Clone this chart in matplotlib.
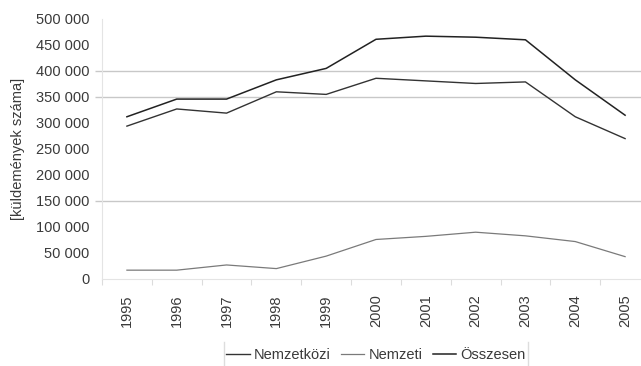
import matplotlib
matplotlib.use("Agg")
import matplotlib.pyplot as plt
from matplotlib.lines import Line2D

plt.rcParams['font.family'] = ['Liberation Sans', 'DejaVu Sans']

years = ['1995', '1996', '1997', '1998', '1999', '2000', '2001', '2002', '2003', '2004', '2005']
nemzetkozi = [294000, 327000, 319000, 360000, 355000, 386000, 381000, 376000, 379000, 312000, 270000]
nemzeti = [17000, 17000, 27000, 20000, 44000, 76000, 82000, 90000, 83000, 72000, 43000]
osszesen = [312000, 346000, 346000, 383000, 405000, 461000, 467000, 465000, 460000, 383000, 315000]
y_ticks = [0, 50000, 100000, 150000, 200000, 250000, 300000, 350000, 400000, 450000, 500000]
grid_values = [150000, 350000, 400000]

text_color = '#3a3a3a'
fs = 10.5

fig = plt.figure(figsize=(6.41, 3.66), dpi=100)
ax = fig.add_axes([102 / 641, 1 - 279 / 366, 548 / 641, 260 / 366])

x = list(range(len(years)))
ax.plot(x, nemzetkozi, color='#333333', lw=1.0, label='Nemzetközi')
ax.plot(x, nemzeti, color='#7a7a7a', lw=0.9, label='Nemzeti')
ax.plot(x, osszesen, color='#222222', lw=1.1, label='Összesen')

ax.set_xlim(-0.5, len(years) - 0.5)
ax.set_ylim(0, 500000)

# horizontal guide lines, reaching slightly left of the value axis
ax.hlines(grid_values, -0.012, 1.0, transform=ax.get_yaxis_transform(),
          colors='#c8c8c8', lw=1.0, clip_on=False, zorder=0)

ax.set_yticks(y_ticks)
ax.set_yticklabels([f"{v:,}".replace(',', ' ') for v in y_ticks])
ax.tick_params(axis='y', length=0, pad=9, labelsize=fs, labelcolor=text_color)

ax.set_xticks(x)
ax.set_xticklabels(years, rotation=90)
ax.set_xticks([i - 0.5 for i in range(len(years) + 1)], minor=True)
ax.tick_params(axis='x', which='major', length=0, pad=11, labelsize=fs, labelcolor=text_color)
ax.tick_params(axis='x', which='minor', length=4, width=0.8, color='#dcdcdc')

for side in ['top', 'right']:
    ax.spines[side].set_visible(False)
ax.spines['left'].set_color('#e4e4e4')
ax.spines['bottom'].set_color('#e4e4e4')

ax.set_ylabel('[küldemények száma]', fontsize=fs, color=text_color)
ax.yaxis.set_label_coords(-0.14, 0.5)

handles, labels = ax.get_legend_handles_labels()
fig.legend(handles, labels, loc='center', bbox_to_anchor=(376 / 641, 1 - 355 / 366),
           ncol=3, frameon=False, fontsize=fs, handlelength=1.6, handletextpad=0.3,
           columnspacing=0.7, labelcolor=text_color)
for xp in (224, 528):
    fig.add_artist(Line2D([xp / 641, xp / 641], [0, 1 - 342 / 366],
                          transform=fig.transFigure, color='#dddddd', lw=1.0))

fig.savefig('out.png', dpi=100)
